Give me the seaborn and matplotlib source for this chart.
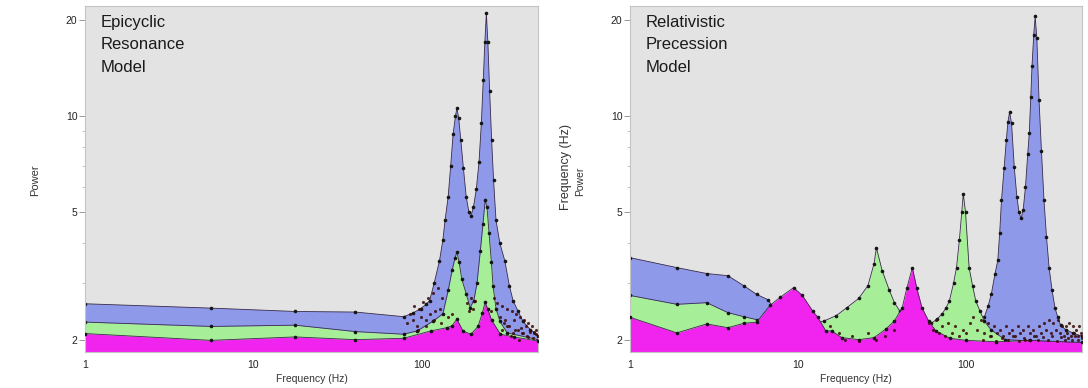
import matplotlib
matplotlib.use("Agg")
import matplotlib.pyplot as plt
import seaborn as sns
import pandas as pd
from matplotlib.ticker import FixedLocator, NullFormatter, LogLocator

# ---------------- data ----------------
# Left panel: Epicyclic Resonance Model
L_blue_f = [1, 5.6, 17.7, 40.2, 77.7, 88, 98, 106, 111, 118, 127, 133, 137, 143, 148, 153, 158, 161,
            165, 170, 176, 183, 190, 195, 202, 210, 218, 225, 231, 236, 241, 246, 252, 259, 266, 275,
            290, 310, 330, 347, 372, 398, 440, 488]
L_blue_p = [2.59, 2.51, 2.45, 2.44, 2.36, 2.42, 2.5, 2.58, 2.65, 3.0, 3.53, 4.1, 4.72, 5.6, 7.0, 8.8, 10.0, 10.6,
            9.9, 8.4, 6.9, 5.6, 5.0, 4.86, 5.2, 5.9, 7.2, 9.5, 13.0, 17.0, 21.0, 17.0, 12.0, 8.4, 6.3, 4.72,
            4.0, 3.53, 2.95, 2.65, 2.45, 2.28, 2.15, 2.06]
L_green_f = [1, 5.6, 17.7, 40.2, 77.7, 93.7, 117, 133, 143, 151, 157, 161, 166, 172, 183, 193, 203, 212,
             222, 230, 237, 243, 250, 258, 264, 275, 290, 320, 488]
L_green_p = [2.27, 2.20, 2.22, 2.12, 2.08, 2.13, 2.29, 2.41, 2.85, 3.3, 3.6, 3.76, 3.5, 3.1, 2.78, 2.52, 2.65, 3.0,
             3.8, 4.6, 5.46, 5.2, 4.3, 3.5, 2.94, 2.5, 2.28, 2.1, 2.0]
L_mag_f = [1, 5.6, 17.7, 40.2, 77.7, 113, 140, 151, 161, 175, 195, 215, 228, 237, 245, 259, 292, 350, 488]
L_mag_p = [2.09, 1.99, 2.04, 2.0, 2.02, 2.13, 2.18, 2.21, 2.32, 2.13, 2.08, 2.2, 2.42, 2.62, 2.5, 2.3, 2.08, 2.04, 1.98]
L_noise_f = [82, 85, 88, 90, 93, 96, 99, 102, 105, 108, 112, 116, 120, 124, 128, 132, 95, 105, 118, 130,
             142, 150, 186, 190, 195, 200, 205, 255, 268, 280, 290, 300, 310, 320, 330, 340, 350, 360, 370,
             380, 392, 404, 416, 428, 440, 452, 465, 478, 298, 318, 338, 358, 378, 398, 418, 438, 458, 478,
             305, 345, 385, 425, 465, 488]
L_noise_p = [2.25, 2.4, 2.3, 2.55, 2.2, 2.5, 2.35, 2.62, 2.3, 2.7, 2.4, 2.8, 2.45, 2.9, 2.5, 2.7, 2.15, 2.2,
             2.3, 2.25, 2.35, 2.4, 2.6, 2.45, 2.7, 2.5, 2.65, 2.45, 2.7, 2.6, 2.35, 2.55, 2.3, 2.5, 2.2, 2.45,
             2.3, 2.4, 2.15, 2.35, 2.1, 2.3, 2.2, 2.25, 2.15, 2.2, 2.1, 2.15, 2.15, 2.2, 2.05, 2.15, 2.0, 2.1,
             2.05, 2.12, 2.02, 2.08, 2.25, 2.1, 2.18, 2.04, 2.12, 2.05]

# Right panel: Relativistic Precession Model
R_blue_f = [1, 1.9, 2.86, 3.82, 4.75, 5.67, 6.59, 7.16, 8.5, 20, 60, 110, 122, 128, 135, 141, 148, 154,
            158, 162, 168, 173, 177, 181, 186, 193, 200, 206, 212, 218, 225, 232, 237, 242, 246, 252, 257,
            263, 271, 280, 290, 300, 311, 324, 337, 350, 364, 390, 430, 488]
R_blue_p = [3.61, 3.36, 3.22, 3.17, 2.95, 2.77, 2.67, 2.52, 2.2, 1.9, 1.9, 1.95, 2.2, 2.35, 2.55, 2.78, 3.2, 3.54,
            4.3, 5.46, 6.9, 8.4, 9.6, 10.3, 9.5, 6.92, 5.6, 5.0, 4.79, 5.1, 6.0, 7.6, 8.83, 11.5, 14.3, 18.0,
            20.5, 17.5, 11.2, 7.8, 5.46, 4.2, 3.36, 2.85, 2.52, 2.35, 2.22, 2.15, 2.1, 2.05]
R_green_f = [1, 1.9, 2.86, 3.82, 4.75, 5.67, 7, 10, 14.3, 16.9, 19.5, 22.9, 26, 28.3, 29.2, 31.6, 34.9,
             37.4, 40.2, 45, 55, 62, 67, 72, 76, 79.3, 84, 87.5, 91, 94, 96, 99, 104, 109, 114, 121, 128,
             140, 170, 488]
R_green_p = [2.75, 2.58, 2.61, 2.43, 2.36, 2.31, 2.25, 2.2, 2.29, 2.38, 2.52, 2.69, 2.95, 3.46, 3.88, 3.29, 2.85,
             2.61, 2.46, 2.2, 2.2, 2.25, 2.32, 2.41, 2.52, 2.64, 3.0, 3.36, 4.1, 5.0, 5.72, 5.0, 3.36, 2.95,
             2.64, 2.45, 2.29, 2.15, 2.0, 1.95]
R_mag_f = [1, 1.9, 2.86, 3.82, 4.75, 5.67, 6.8, 7.8, 9.4, 10.6, 12.2, 13.1, 14.6, 15.8, 18.2, 23, 28.3,
           33.3, 37.4, 41.6, 44.4, 47.8, 50.7, 54.5, 59.7, 66, 80, 100, 151, 241, 488]
R_mag_p = [2.35, 2.10, 2.24, 2.18, 2.25, 2.27, 2.56, 2.71, 2.91, 2.75, 2.46, 2.35, 2.13, 2.13, 2.03, 2.0, 2.03,
           2.16, 2.29, 2.52, 2.91, 3.36, 2.91, 2.52, 2.29, 2.13, 2.02, 1.99, 1.97, 1.99, 1.96]
R_noise_f = [15.5, 17.5, 19, 21, 23, 26, 29, 33, 37, 60, 63, 66, 69, 72, 75, 78, 82, 86, 90, 95, 100,
             105, 110, 116, 122, 128, 134, 140, 146, 152, 158, 165, 172, 180, 188, 195, 203, 210, 218, 225,
             233, 240, 250, 260, 270, 280, 290, 300, 310, 320, 330, 340, 350, 360, 370, 380, 390, 400, 410,
             420, 430, 440, 450, 460, 470, 480, 488, 125, 138, 150, 163, 176, 190, 205, 220, 236, 252, 268,
             285, 305, 325, 345, 365, 385, 405, 425, 445, 465, 485]
R_noise_p = [2.2, 2.1, 2.0, 2.05, 1.98, 2.1, 2.0, 2.05, 2.15, 2.25, 2.15, 2.3, 2.1, 2.2, 2.05, 2.25, 2.1,
             2.2, 2.05, 2.15, 2.1, 2.25, 2.35, 2.15, 2.3, 2.1, 2.25, 2.05, 2.2, 2.1, 2.15, 2.05, 2.2, 2.1,
             2.15, 2.05, 2.2, 2.1, 2.15, 2.0, 2.2, 2.1, 2.15, 2.05, 2.2, 2.1, 2.25, 2.15, 2.3, 2.1, 2.25, 2.15,
             2.3, 2.1, 2.2, 2.05, 2.2, 2.1, 2.25, 2.05, 2.2, 2.1, 2.15, 2.05, 2.2, 2.1, 2.05, 2.0, 2.05, 1.98,
             2.02, 2.0, 2.05, 1.98, 2.03, 2.0, 2.06, 1.99, 2.04, 2.0, 2.06, 1.98, 2.04, 2.0, 2.03, 1.99, 2.05,
             2.0, 2.02]

x_ticks = [1, 10, 100]
y_ticks = [2, 5, 10, 20]
x_label = "Frequency (Hz)"
titles = ["Epicyclic\nResonance\nModel", "Relativistic\nPrecession\nModel"]

# ---------------- style ----------------
sns.set_theme(style="white")
plt.rcParams['font.family'] = ['Liberation Sans', 'DejaVu Sans']

BLUE = "#8e9ae9"
GREEN = "#a6ee97"
MAG = "#f023ef"
BG = "#e3e3e3"

fig = plt.figure(figsize=(10.88, 3.88), dpi=100)
axL = fig.add_axes([85 / 1088, 1 - 352 / 388, 453 / 1088, 346 / 388])
axR = fig.add_axes([630 / 1088, 1 - 352 / 388, 452 / 1088, 346 / 388])


def draw(ax, series, noise_f, noise_p, title):
    ax.set_facecolor(BG)
    ax.set_xscale("log")
    ax.set_yscale("log")
    z = 2.0
    for f, p, col in series:
        df = pd.DataFrame({"f": f, "p": p})
        ax.fill_between(df["f"], df["p"], 0.5, color=col, linewidth=0, zorder=z)
        sns.lineplot(data=df, x="f", y="p", ax=ax, color="#3a2a4a", linewidth=0.6,
                     marker="o", markersize=2.6, markeredgewidth=0, markerfacecolor="#151515",
                     zorder=z + 0.1, estimator=None, sort=False)
        z += 0.2
    nd = pd.DataFrame({"f": noise_f, "p": noise_p})
    sns.scatterplot(data=nd, x="f", y="p", ax=ax, s=5, color="#3a0a0a", linewidth=0,
                    alpha=0.85, zorder=4)
    ax.set_xlim(1, 488)
    ax.set_ylim(1.83, 22.1)
    ax.xaxis.set_major_locator(FixedLocator(x_ticks))
    ax.set_xticklabels([str(t) for t in x_ticks])
    ax.xaxis.set_minor_locator(LogLocator(base=10, subs=range(2, 10)))
    ax.xaxis.set_minor_formatter(NullFormatter())
    ax.yaxis.set_major_locator(FixedLocator(y_ticks))
    ax.set_yticklabels([str(t) for t in y_ticks])
    ax.yaxis.set_minor_locator(FixedLocator([3, 4, 6, 7, 8, 9]))
    ax.yaxis.set_minor_formatter(NullFormatter())
    ax.tick_params(axis="x", which="major", direction="in", length=3, width=0.6,
                   color="#666666", labelsize=7.5, labelcolor="#222222", pad=6)
    ax.tick_params(axis="x", which="minor", direction="in", length=2, width=0.5, color="#777777")
    ax.tick_params(axis="y", which="major", direction="out", length=4, width=0.6,
                   color="#888888", labelsize=7.5, labelcolor="#222222", pad=1.5, left=True)
    ax.tick_params(axis="y", which="minor", direction="out", length=2, width=0.5,
                   color="#aaaaaa", left=True)
    for s in ax.spines.values():
        s.set_color("#c4c4c4")
        s.set_linewidth(0.8)
    ax.set_xlabel(x_label, fontsize=7.5, color="#333333", labelpad=3)
    ax.set_ylabel("")
    ax.text(0.035, 0.975, title, transform=ax.transAxes, ha="left", va="top",
            fontsize=12, color="#1a1a1a", linespacing=1.65, zorder=6)


draw(axL, [(L_blue_f, L_blue_p, BLUE), (L_green_f, L_green_p, GREEN), (L_mag_f, L_mag_p, MAG)],
     L_noise_f, L_noise_p, titles[0])
draw(axR, [(R_blue_f, R_blue_p, BLUE), (R_green_f, R_green_p, GREEN), (R_mag_f, R_mag_p, MAG)],
     R_noise_f, R_noise_p, titles[1])

fig.text(35 / 1088, 1 - 180 / 388, "Power", rotation=90, ha="center", va="center",
         fontsize=8, color="#333333")
fig.text(566 / 1088, 1 - 167 / 388, "Frequency (Hz)", rotation=90, ha="center", va="center",
         fontsize=9, color="#333333")
fig.text(580 / 1088, 1 - 181 / 388, "Power", rotation=90, ha="center", va="center",
         fontsize=7.5, color="#333333")

fig.savefig("out.png", dpi=100, facecolor="white")
